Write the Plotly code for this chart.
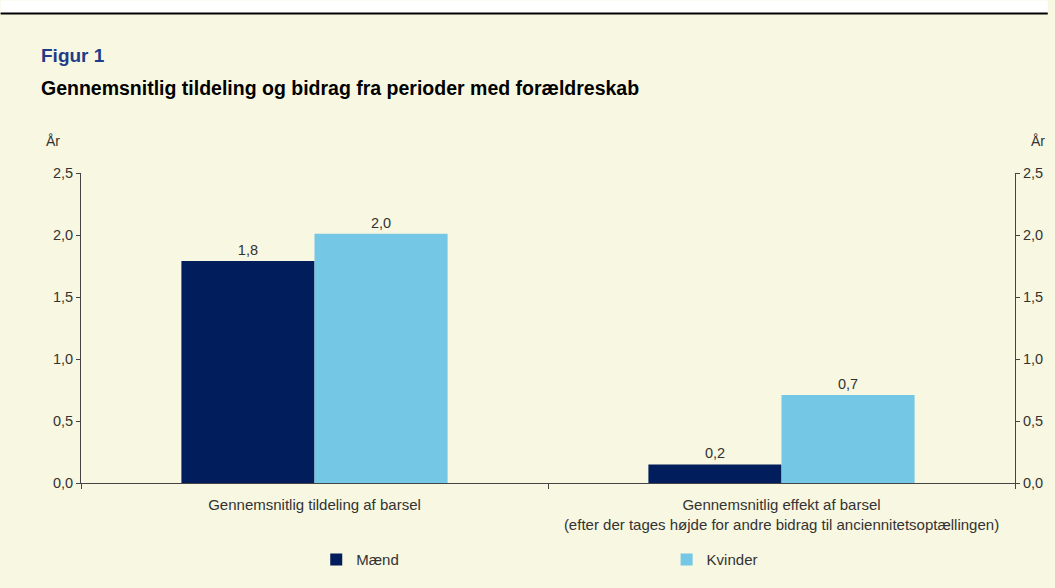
import plotly.graph_objects as go

categories = ["Gennemsnitlig tildeling af barsel",
              "Gennemsnitlig effekt af barsel<br>(efter der tages højde for andre bidrag til anciennitetsoptællingen)"]
maend = [1.79, 0.15]
kvinder = [2.01, 0.71]
maend_labels = ["1,8", "0,2"]
kvinder_labels = ["2,0", "0,7"]
y_ticks = [0, 0.5, 1.0, 1.5, 2.0, 2.5]
y_ticklabels = ["0,0", "0,5", "1,0", "1,5", "2,0", "2,5"]

BG = "#F8F7E1"
FONT = "Liberation Sans, Arial, sans-serif"
TXT = "#333333"

fig = go.Figure()
fig.add_trace(go.Bar(name="Mænd", x=categories, y=maend, text=maend_labels,
                     textposition="outside", marker=dict(color="#021D5B", line=dict(width=0)),
                     textfont=dict(size=14.5, color=TXT, family=FONT), cliponaxis=False,
                     legend="legend"))
fig.add_trace(go.Bar(name="Kvinder", x=categories, y=kvinder, text=kvinder_labels,
                     textposition="outside", marker=dict(color="#74C8E6", line=dict(width=0)),
                     textfont=dict(size=14.5, color=TXT, family=FONT), cliponaxis=False,
                     legend="legend2"))
fig.add_trace(go.Scatter(x=categories, y=maend, yaxis="y2", mode="markers",
                         marker=dict(opacity=0), showlegend=False, hoverinfo="skip"))

L, R, T, B = 81, 33, 173, 104
W, H = 1055, 588
pw = W - L - R
ph = H - T - B

def px_x(x):
    return (x - L) / pw

def px_y(y):
    return (H - B - y) / ph

axis_common = dict(range=[0, 2.5], tickvals=y_ticks, ticktext=y_ticklabels,
                   showgrid=False, zeroline=False, showline=True, linecolor="#444444",
                   linewidth=1, ticks="outside", ticklen=4, tickcolor="#444444",
                   tickfont=dict(size=14.5, color=TXT, family=FONT))

legend_common = dict(orientation="h", yanchor="middle", xanchor="left", bgcolor="rgba(0,0,0,0)",
                     font=dict(size=15, color=TXT, family=FONT), itemclick=False,
                     itemdoubleclick=False, itemwidth=30)

fig.update_layout(
    width=W, height=H,
    margin=dict(l=L, r=R, t=T, b=B),
    paper_bgcolor=BG, plot_bgcolor=BG,
    barmode="group", bargap=0.43, bargroupgap=0,
    font=dict(family=FONT, color=TXT),
    xaxis=dict(showline=True, linecolor="#444444", linewidth=1, ticks="outside",
               tickson="boundaries", ticklen=5, tickcolor="#444444", ticklabelstandoff=8,
               tickfont=dict(size=15, color=TXT, family=FONT), showgrid=False),
    yaxis=dict(side="left", **axis_common),
    yaxis2=dict(side="right", overlaying="y", **axis_common),
    showlegend=True,
    legend=dict(x=px_x(318), y=px_y(561), **legend_common),
    legend2=dict(x=px_x(671), y=px_y(561), **legend_common),
    shapes=[
        dict(type="rect", xref="paper", yref="paper", x0=px_x(0), x1=px_x(W),
             y0=px_y(13), y1=px_y(0), fillcolor="white", line=dict(width=0), layer="above"),
        dict(type="line", xref="paper", yref="paper", x0=px_x(0), x1=px_x(W),
             y0=px_y(13), y1=px_y(13), line=dict(color="black", width=2)),
    ],
    annotations=[
        dict(text="<b>Figur 1</b>", xref="paper", yref="paper", x=px_x(39), y=px_y(55),
             xanchor="left", yanchor="middle", showarrow=False,
             font=dict(size=19, color="#1F3C88", family=FONT)),
        dict(text="<b>Gennemsnitlig tildeling og bidrag fra perioder med forældreskab</b>",
             xref="paper", yref="paper", x=px_x(39), y=px_y(88),
             xanchor="left", yanchor="middle", showarrow=False,
             font=dict(size=19.5, color="black", family=FONT)),
        dict(text="År", xref="paper", yref="paper", x=px_x(44), y=px_y(141),
             xanchor="left", yanchor="middle", showarrow=False,
             font=dict(size=14, color=TXT, family=FONT)),
        dict(text="År", xref="paper", yref="paper", x=px_x(1036), y=px_y(141),
             xanchor="left", yanchor="middle", showarrow=False,
             font=dict(size=14, color=TXT, family=FONT)),
    ],
)

fig.write_html("out.html", config={"displayModeBar": False},
               post_script="document.body.style.margin='0';document.body.style.overflow='hidden';")
